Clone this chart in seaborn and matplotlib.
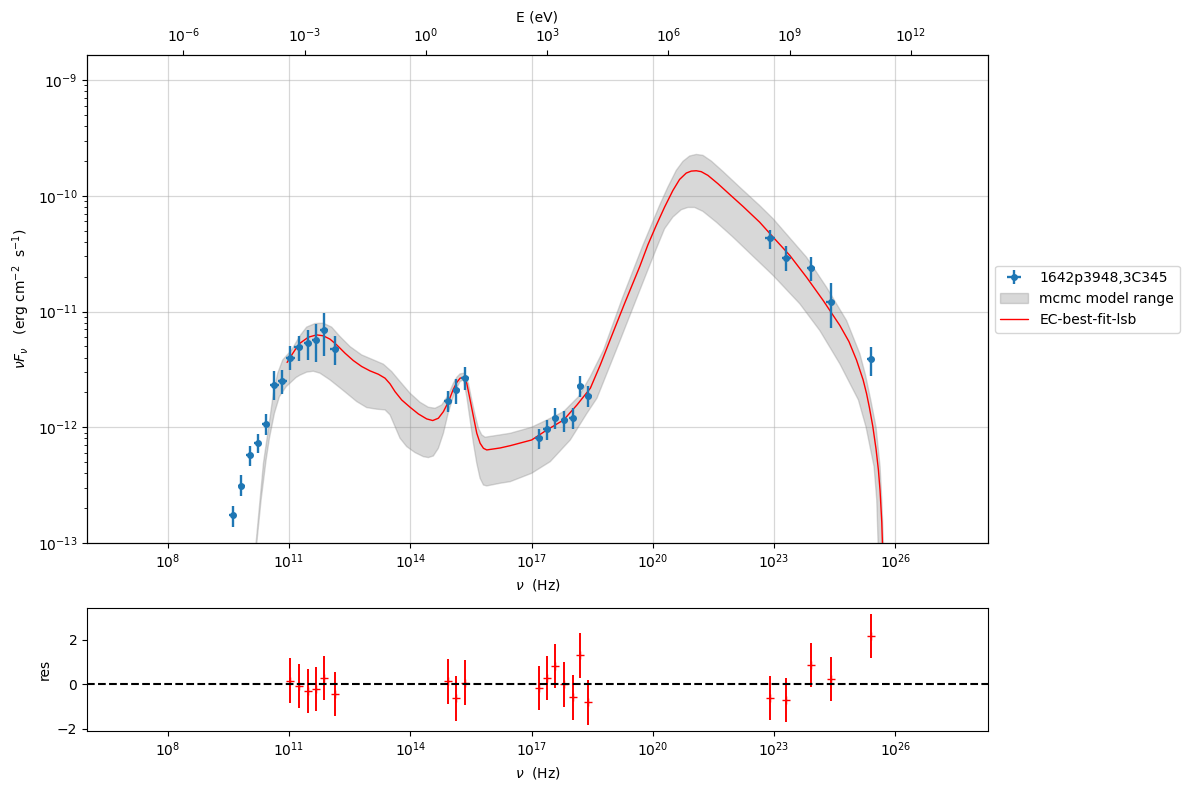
#!/usr/bin/env python
# -*- coding: utf-8 -*-
import numpy as np
import matplotlib
matplotlib.use('Agg')
import matplotlib.pyplot as plt
from matplotlib.ticker import NullLocator
import seaborn as sns

# SED points, all in log10
log_nu = [9.607, 9.821, 10.027, 10.225, 10.423, 10.638, 10.836, 11.034, 11.240, 11.463,
          11.661, 11.859, 12.131, 14.928, 15.135, 15.349, 17.190, 17.388, 17.586, 17.809,
          18.015, 18.205, 18.403, 22.893, 23.305, 23.908, 24.403, 25.385]
log_flux = [-12.761, -12.504, -12.242, -12.133, -11.968, -11.631, -11.597, -11.398, -11.311, -11.274,
            -11.242, -11.164, -11.320, -11.769, -11.680, -11.571, -12.092, -12.014, -11.922, -11.937,
            -11.922, -11.643, -11.729, -10.369, -10.534, -10.620, -10.917, -11.410]
log_flux_hi = [-12.683, -12.415, -12.164, -12.055, -11.888, -11.516, -11.507, -11.300, -11.213, -11.161,
               -11.109, -11.017, -11.213, -11.689, -11.585, -11.481, -12.014, -11.937, -11.833, -11.859,
               -11.833, -11.556, -11.643, -10.294, -10.438, -10.525, -10.758, -11.303]
log_flux_lo = [-12.862, -12.594, -12.334, -12.222, -12.066, -11.764, -11.712, -11.504, -11.427, -11.418,
               -11.435, -11.383, -11.461, -11.867, -11.798, -11.677, -12.185, -12.110, -12.017, -12.038,
               -12.014, -11.735, -11.821, -10.464, -10.646, -10.738, -11.145, -11.554]
log_nu_err = [0.09, 0.09, 0.09, 0.09, 0.09, 0.11, 0.11, 0.11, 0.11, 0.09,
              0.09, 0.10, 0.11, 0.10, 0.09, 0.10, 0.10, 0.10, 0.09, 0.09,
              0.09, 0.09, 0.09, 0.12, 0.11, 0.09, 0.11, 0.09]

# best fit model
fit_x = [10.950, 11.034, 11.150, 11.269, 11.475, 11.682, 11.847, 12.012, 12.177, 12.383,
         12.589, 12.795, 13.002, 13.208, 13.373, 13.497, 13.620, 13.785, 13.992, 14.198,
         14.404, 14.553, 14.693, 14.817, 14.941, 15.064, 15.150, 15.230, 15.313, 15.395,
         15.478, 15.560, 15.643, 15.725, 15.808, 15.890, 16.220, 16.472, 17.000, 17.379,
         17.792, 18.122, 18.452, 18.700, 18.947, 19.300, 19.675, 19.876, 20.083, 20.289,
         20.495, 20.660, 20.825, 20.949, 21.073, 21.196, 21.361, 21.609, 21.898, 22.228,
         22.640, 22.975, 23.388, 23.801, 24.213, 24.626, 24.850, 25.038, 25.200, 25.286,
         25.356, 25.439, 25.521, 25.579, 25.620, 25.662, 25.678, 25.686]
fit_y = [-11.440, -11.392, -11.330, -11.274, -11.222, -11.202, -11.210, -11.239, -11.288, -11.360,
         -11.424, -11.475, -11.513, -11.542, -11.576, -11.625, -11.692, -11.764, -11.827, -11.885,
         -11.928, -11.942, -11.922, -11.865, -11.780, -11.670, -11.612, -11.576, -11.568, -11.620,
         -11.764, -11.908, -12.052, -12.138, -12.182, -12.196, -12.179, -12.159, -12.110, -12.023,
         -11.937, -11.807, -11.663, -11.460, -11.240, -10.930, -10.611, -10.424, -10.256, -10.098,
         -9.954, -9.859, -9.804, -9.787, -9.784, -9.792, -9.824, -9.896, -9.988, -10.092,
         -10.228, -10.358, -10.516, -10.704, -10.905, -11.121, -11.260, -11.420, -11.590, -11.710,
         -11.830, -11.990, -12.190, -12.370, -12.550, -12.820, -13.000, -13.200]

# mcmc range, upper and lower edge
up_x = [10.160, 10.183, 10.266, 10.365, 10.497, 10.612, 10.719, 10.843, 11.059, 11.269,
        11.434, 11.641, 11.847, 12.053, 12.259, 12.507, 12.795, 13.084, 13.332, 13.538,
        13.744, 13.992, 14.239, 14.446, 14.611, 14.776, 14.941, 15.064, 15.150, 15.230,
        15.329, 15.436, 15.519, 15.601, 15.684, 15.766, 15.849, 16.220, 16.472, 17.000,
        17.379, 17.792, 18.163, 18.452, 18.782, 19.250, 19.752, 19.959, 20.165, 20.371,
        20.578, 20.743, 20.908, 21.073, 21.238, 21.444, 21.733, 22.145, 22.640, 22.975,
        23.801, 24.295, 24.791, 25.121, 25.260, 25.389, 25.521, 25.620, 25.662, 25.703,
        25.711]
up_y = [-13.200, -13.000, -12.686, -12.311, -11.994, -11.706, -11.533, -11.418, -11.334, -11.210,
        -11.135, -11.104, -11.101, -11.135, -11.216, -11.303, -11.375, -11.418, -11.455, -11.519,
        -11.605, -11.706, -11.784, -11.827, -11.836, -11.807, -11.720, -11.620, -11.568, -11.539,
        -11.533, -11.620, -11.764, -11.893, -12.009, -12.066, -12.086, -12.066, -12.052, -12.000,
        -11.937, -11.865, -11.735, -11.562, -11.331, -10.880, -10.429, -10.256, -10.084, -9.925,
        -9.781, -9.703, -9.657, -9.643, -9.651, -9.700, -9.790, -9.925, -10.084, -10.199,
        -10.531, -10.790, -11.078, -11.366, -11.550, -11.764, -12.000, -12.340, -12.628, -13.000,
        -13.200]
lo_x = [10.160, 10.200, 10.307, 10.431, 10.513, 10.637, 10.761, 10.926, 11.173, 11.269,
        11.434, 11.599, 11.764, 12.012, 12.342, 12.672, 12.919, 13.167, 13.373, 13.497,
        13.620, 13.744, 13.909, 14.116, 14.322, 14.446, 14.569, 14.693, 14.817, 14.941,
        15.106, 15.230, 15.313, 15.395, 15.478, 15.560, 15.643, 15.725, 15.808, 15.890,
        16.220, 16.472, 17.000, 17.462, 17.957, 18.370, 18.617, 19.195, 19.675, 19.923,
        20.083, 20.289, 20.495, 20.701, 20.866, 21.031, 21.238, 21.568, 21.980, 22.315,
        22.975, 23.635, 24.130, 24.626, 25.084, 25.274, 25.472, 25.538, 25.571, 25.579]
lo_y = [-13.200, -13.000, -12.628, -12.282, -12.095, -11.879, -11.735, -11.650, -11.570, -11.550,
        -11.524, -11.516, -11.533, -11.591, -11.683, -11.778, -11.830, -11.844, -11.850, -11.893,
        -11.994, -12.095, -12.167, -12.219, -12.254, -12.262, -12.248, -12.182, -12.052, -11.870,
        -11.690, -11.605, -11.591, -11.735, -11.937, -12.138, -12.311, -12.441, -12.499, -12.507,
        -12.484, -12.470, -12.398, -12.297, -12.110, -11.879, -11.749, -11.245, -10.819, -10.600,
        -10.460, -10.285, -10.184, -10.121, -10.101, -10.101, -10.135, -10.228, -10.357, -10.469,
        -10.689, -10.934, -11.165, -11.453, -11.764, -12.000, -12.340, -12.628, -13.000, -13.200]

# residuals, first seven points are not in this panel
res_nu = log_nu[7:]
res_val = [0.15, -0.09, -0.31, -0.22, 0.27, -0.45, 0.12, -0.64, 0.06, -0.18, 0.27,
           0.81, -0.01, -0.60, 1.29, -0.82, -0.63, -0.72, 0.85, 0.22, 2.15]
res_err = [1.0] * len(res_val)

nu_ticks = [1e8, 1e11, 1e14, 1e17, 1e20, 1e23, 1e26]
e_ticks = [1e-6, 1e-3, 1e0, 1e3, 1e6, 1e9, 1e12]

h_ev = 4.135667e-15
xlim = (1e6, 10**28.29)
ylim = (1e-13, 10**-8.784)


def pow10(v):
    return 10.0 ** np.array(v)


sns.set_style('ticks', {'text.color': 'black', 'axes.labelcolor': 'black', 'axes.edgecolor': 'black',
                        'xtick.color': 'black', 'ytick.color': 'black'})
plt.rcParams['font.family'] = ['DejaVu Sans']

W, H = 1189.0, 790.0
fig = plt.figure(figsize=(W / 100, H / 100), dpi=100)
ax = fig.add_axes([87 / W, 1 - 543 / H, 901 / W, 488 / H])
ax_res = fig.add_axes([87 / W, 1 - 731 / H, 901 / W, 123 / H])

ax.set_xscale('log')
ax.set_yscale('log')
ax.set_axisbelow(True)
ax.grid(True, which='major', color='#b0b0b0', alpha=0.5, lw=0.9)

x_mid = np.array(log_nu)
x_err = np.array(log_nu_err)
ax.errorbar(pow10(log_nu), pow10(log_flux),
            xerr=[pow10(x_mid) - pow10(x_mid - x_err), pow10(x_mid + x_err) - pow10(x_mid)],
            yerr=[pow10(log_flux) - pow10(log_flux_lo), pow10(log_flux_hi) - pow10(log_flux)],
            fmt='o', color='#1f77b4', ms=4, elinewidth=1.7, label='1642p3948,3C345', zorder=4)

# polygon from the two edges, they are not read at the same x
band_x = np.concatenate([pow10(up_x), pow10(lo_x)[::-1]])
band_y = np.concatenate([pow10(up_y), pow10(lo_y)[::-1]])
ax.fill(band_x, band_y, color='gray', alpha=0.3, label='mcmc model range', zorder=2)

sns.lineplot(x=pow10(fit_x), y=pow10(fit_y), ax=ax, color='red', lw=1, sort=False,
             estimator=None, label='EC-best-fit-lsb', zorder=3)

ax.set_xlim(xlim)
ax.set_ylim(ylim)
ax.set_xticks(nu_ticks)
ax.xaxis.set_minor_locator(NullLocator())
ax.set_xlabel(r'$\nu$  (Hz)')
ax.set_ylabel(r'$\nu F_{\nu}$   (erg cm$^{-2}$  s$^{-1}$)')

handles, labels = ax.get_legend_handles_labels()
order = [labels.index(n) for n in ['1642p3948,3C345', 'mcmc model range', 'EC-best-fit-lsb']]
ax.legend([handles[i] for i in order], [labels[i] for i in order], loc='center left',
          bbox_to_anchor=(1.0, 0.5), frameon=True, fontsize=10)

# energy axis on top
ax_top = ax.twiny()
ax_top.set_xscale('log')
ax_top.set_xlim(xlim[0] * h_ev, xlim[1] * h_ev)
ax_top.set_xticks(e_ticks)
ax_top.xaxis.set_minor_locator(NullLocator())
ax_top.set_xlabel('E (eV)')
ax_top.grid(False)

# residual panel
ax_res.set_xscale('log')
ax_res.errorbar(pow10(res_nu), res_val, yerr=res_err, fmt='+', color='red', ms=6, mew=1,
                elinewidth=1.4, zorder=3)
ax_res.axhline(0, color='k', ls='--', lw=1.5, zorder=4)
ax_res.set_xlim(xlim)
ax_res.set_ylim(-2.11, 3.42)
ax_res.set_yticks([-2, 0, 2])
ax_res.set_xticks(nu_ticks)
ax_res.xaxis.set_minor_locator(NullLocator())
ax_res.set_xlabel(r'$\nu$  (Hz)')
ax_res.set_ylabel('res')
ax_res.grid(False)

fig.savefig('out.png', dpi=100)
